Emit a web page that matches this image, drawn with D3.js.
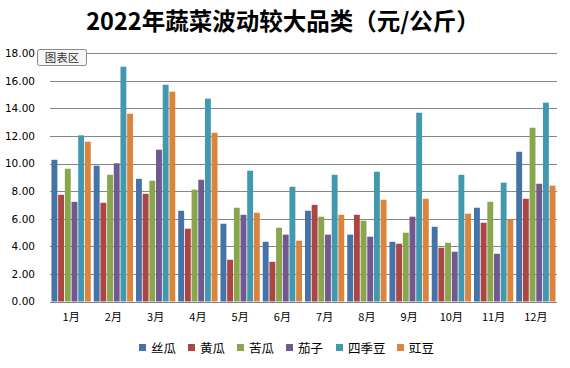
<!DOCTYPE html>
<html><head><meta charset="utf-8">
<script src="https://cdn.jsdelivr.net/npm/d3@7/dist/d3.min.js"></script>
<style>body{margin:0;background:#fff;}svg{display:block;}</style>
</head><body>
<script>
const months = ["1月","2月","3月","4月","5月","6月","7月","8月","9月","10月","11月","12月"];
const seriesNames = ["丝瓜","黄瓜","苦瓜","茄子","四季豆","豇豆"];
const luffa      = [10.28, 9.85, 8.90, 6.58, 5.64, 4.33, 6.58, 4.85, 4.33, 5.42, 6.80, 10.86];
const cucumber   = [7.74, 7.16, 7.81, 5.28, 3.03, 2.88, 7.01, 6.29, 4.19, 3.90, 5.71, 7.45];
const bitterMelon= [9.63, 9.19, 8.76, 8.11, 6.80, 5.35, 6.15, 5.86, 4.99, 4.26, 7.23, 12.60];
const eggplant   = [7.23, 10.02, 11.01, 8.83, 6.29, 4.85, 4.85, 4.70, 6.15, 3.61, 3.46, 8.54];
const greenBean  = [12.05, 17.03, 15.72, 14.71, 9.48, 8.32, 9.19, 9.41, 13.69, 9.19, 8.62, 14.42];
const cowpea     = [11.59, 13.62, 15.22, 12.24, 6.44, 4.41, 6.29, 7.38, 7.45, 6.37, 5.93, 8.40];
const yTicks = [0,2,4,6,8,10,12,14,16,18];
const colors = ["#4572A7","#AA4643","#89A54E","#71588F","#4198AF","#DB843D"];
const allSeries = [luffa, cucumber, bitterMelon, eggplant, greenBean, cowpea];

const W = 570, H = 368;
const svg = d3.select("body").append("svg").attr("width", W).attr("height", H);
const plotL = 50, plotR = 557, plotT = 53.3, plotB = 301.5;

const y = d3.scaleLinear().domain([0,18]).range([plotB, plotT]);
const x0 = d3.scaleBand().domain(months).range([plotL, plotR]).paddingInner(0.07).paddingOuter(0.035);
const x1 = d3.scaleBand().domain(d3.range(6)).range([0, x0.bandwidth()]).paddingInner(0.12);

// title
svg.append("text").attr("x", 283).attr("y", 30).attr("text-anchor","middle")
  .attr("font-family","'Noto Sans CJK SC', sans-serif").attr("font-weight","bold")
  .attr("font-size", 23.5).attr("fill","#000").text("2022年蔬菜波动较大品类（元/公斤）");

// gridlines
svg.append("g").selectAll("line").data(yTicks.filter(d=>d>0)).join("line")
  .attr("x1", plotL).attr("x2", plotR)
  .attr("y1", d=>Math.round(y(d))+0.5).attr("y2", d=>Math.round(y(d))+0.5)
  .attr("stroke","#868686").attr("stroke-width",1);

// y axis labels
const yAxis = d3.axisLeft(y).tickValues(yTicks).tickFormat(d3.format(".2f")).tickSize(0).tickPadding(15);
const gy = svg.append("g").attr("transform",`translate(${plotL},0)`).call(yAxis);
gy.select(".domain").remove();
gy.selectAll("text").attr("font-family","'DejaVu Sans', sans-serif").attr("font-size",10.5).attr("fill","#000");

// bars
const groups = svg.append("g").selectAll("g").data(months).join("g")
  .attr("transform", d=>`translate(${x0(d)},0)`);
groups.selectAll("rect").data((m,i)=>allSeries.map((s,k)=>({k, v:s[i]}))).join("rect")
  .attr("x", d=>x1(d.k)).attr("width", x1.bandwidth())
  .attr("y", d=>y(d.v)).attr("height", d=>y(0)-y(d.v))
  .attr("fill", d=>colors[d.k]);

// baseline
svg.append("line").attr("x1",plotL).attr("x2",plotR)
  .attr("y1",Math.round(y(0))+0.5).attr("y2",Math.round(y(0))+0.5)
  .attr("stroke","#868686").attr("stroke-width",1);

// x axis labels
const xAxis = d3.axisBottom(x0).tickSize(0).tickPadding(12);
const gx = svg.append("g").attr("transform",`translate(0,${plotB})`).call(xAxis);
gx.select(".domain").remove();
gx.selectAll("text").attr("font-family","'Noto Sans CJK SC', sans-serif").attr("font-size",11).attr("fill","#000");

// legend
const legendX = [139, 188, 237, 286, 336, 397];
const lg = svg.append("g").selectAll("g").data(seriesNames).join("g")
  .attr("transform",(d,i)=>`translate(${legendX[i]},0)`);
lg.append("rect").attr("x",0).attr("y",344).attr("width",7).attr("height",7).attr("fill",(d,i)=>colors[i]);
lg.append("text").attr("x",12).attr("y",352.5).attr("font-family","'Noto Sans CJK SC', sans-serif")
  .attr("font-size",12.5).attr("fill","#000").text(d=>d);

// chart area tooltip
const tip = svg.append("g");
tip.append("rect").attr("x",37.5).attr("y",49.5).attr("width",49).attr("height",16).attr("rx",2)
  .attr("fill","#f7f7f7").attr("stroke","#8a8a8a");
tip.append("text").attr("x",62).attr("y",61.5).attr("text-anchor","middle")
  .attr("font-family","'Noto Sans CJK SC', sans-serif").attr("font-size",11.5).attr("fill","#333").text("图表区");
</script>
</body></html>
